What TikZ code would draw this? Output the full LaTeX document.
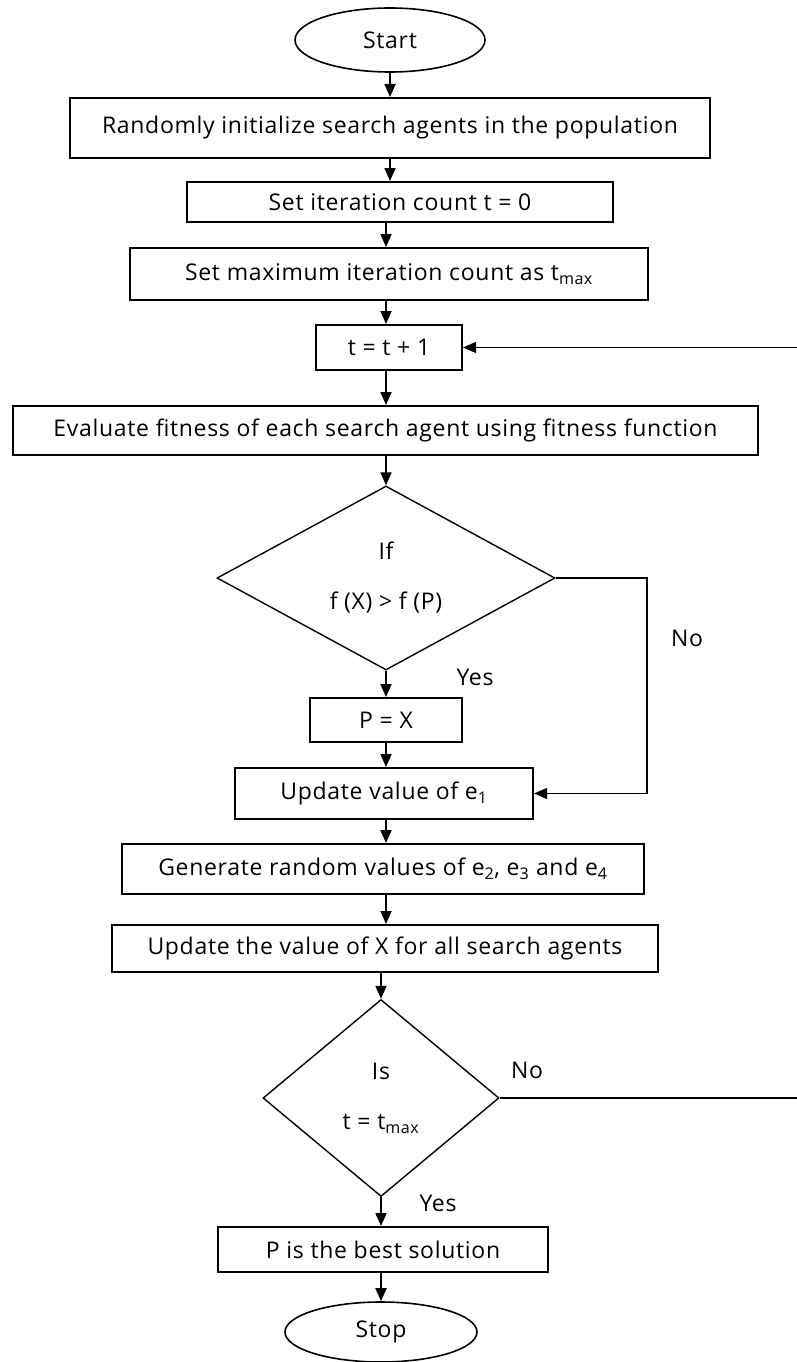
\documentclass[tikz,border=0pt]{standalone}
\usepackage{fontspec}
\setmainfont{Open Sans}[LetterSpace=3]
\usetikzlibrary{positioning}
\usetikzlibrary{shapes.geometric}
\usetikzlibrary{arrows.meta}

\begin{document}
\begin{tikzpicture}[->,>={Triangle[length=13pt,width=11pt]},x=1pt,y=-1pt,line width=1.8pt]
	\tikzset{vertex/.style = {shape=rectangle, draw, line width=2pt, inner sep=0pt, font=\fontsize{23}{26}\selectfont}}
	\tikzset{terminal/.style = {shape=ellipse, draw, line width=1.6pt, inner sep=0pt, font=\fontsize{23}{26}\selectfont}}
	\tikzset{decision/.style = {shape=diamond, draw, line width=1.4pt, inner sep=0pt, align=center, font=\fontsize{23}{26}\selectfont}}
	\tikzset{answer/.style = {font=\fontsize{23}{26}\selectfont}}
	\tikzset{loopline/.style = {line width=1.1pt}}
	\useasboundingbox (0,0) rectangle (796,1362);
	
	\node[terminal, minimum width=190pt, minimum height=64pt] (START) at (390,40) {Start};
	\node[vertex, minimum width=640pt, minimum height=60pt] (INIT) at (390,128) {Randomly initialize search agents in the population};
	\node[vertex, minimum width=426pt, minimum height=40pt] (SETCOUNT) at (400,202) {Set iteration count t = 0};
	\node[vertex, minimum width=518pt, minimum height=52pt] (SETMAX) at (389,274) {Set maximum iteration count as t\textsubscript{max}};
	\node[vertex, minimum width=146pt, minimum height=45pt] (INCR) at (389,347.5) {t = t + 1};
	\node[vertex, minimum width=745pt, minimum height=49pt] (EVAL) at (385.5,430.5) {Evaluate fitness of each search agent using fitness function};
	\node[decision, minimum width=338pt, minimum height=184pt] (IFBETTER) at (386,578) {If\\[24pt]f (X) > f (P)};
	\node[vertex, minimum width=152pt, minimum height=44pt] (SETP) at (386,720) {P = X};
	\node[vertex, minimum width=298pt, minimum height=51pt] (UPDE) at (384,793.5) {Update value of e\textsubscript{1}};
	\node[vertex, minimum width=522pt, minimum height=50pt] (GENE) at (383,869) {Generate random values of e\textsubscript{2}, e\textsubscript{3} and e\textsubscript{4}};
	\node[vertex, minimum width=546pt, minimum height=47pt] (UPDX) at (385,948.5) {Update the value of X for all search agents};
	\node[decision, minimum width=236pt, minimum height=197pt] (ISMAX) at (381,1098) {Is\\[24pt]t = t\textsubscript{max}};
	\node[vertex, minimum width=330pt, minimum height=45pt] (BEST) at (383,1249.5) {P is the best solution};
	\node[terminal, minimum width=192pt, minimum height=60pt] (STOP) at (381,1332) {Stop};
	
	\node[answer] (YES1) at (475,677) {Yes};
	\node[answer] (NO1) at (687,638) {No};
	\node[answer] (NO2) at (527,1070) {No};
	\node[answer] (YES2) at (438,1203) {Yes};
	
	\coordinate (NORIGHT) at (647,0);
	\coordinate (LOOPRIGHT) at (805,0);
	
	\draw (START.south) -- (START.south |- INIT.north);
	\draw (START.south |- INIT.south) -- (START.south |- SETCOUNT.north);
	\draw (IFBETTER.north |- SETCOUNT.south) -- (IFBETTER.north |- SETMAX.north);
	\draw (IFBETTER.north |- SETMAX.south) -- (IFBETTER.north |- INCR.north);
	\draw (IFBETTER.north |- INCR.south) -- (IFBETTER.north |- EVAL.north);
	\draw (IFBETTER.north |- EVAL.south) -- (IFBETTER.north);
	\draw (IFBETTER.south) -- (IFBETTER.south |- SETP.north);
	\draw (IFBETTER.south |- SETP.south) -- (IFBETTER.south |- UPDE.north);
	\draw (IFBETTER.south |- UPDE.south) -- (IFBETTER.south |- GENE.north);
	\draw (IFBETTER.south |- GENE.south) -- (IFBETTER.south |- UPDX.north);
	\draw (ISMAX.north |- UPDX.south) -- (ISMAX.north);
	\draw (ISMAX.south) -- (ISMAX.south |- BEST.north);
	\draw (ISMAX.south |- BEST.south) -- (STOP.north);
	
	\draw[loopline] (IFBETTER.east) -| (NORIGHT |- UPDE.east) -- (UPDE.east);
	\draw[loopline] (ISMAX.east) -| (LOOPRIGHT |- INCR.east) -- (INCR.east);
\end{tikzpicture}
\end{document}
